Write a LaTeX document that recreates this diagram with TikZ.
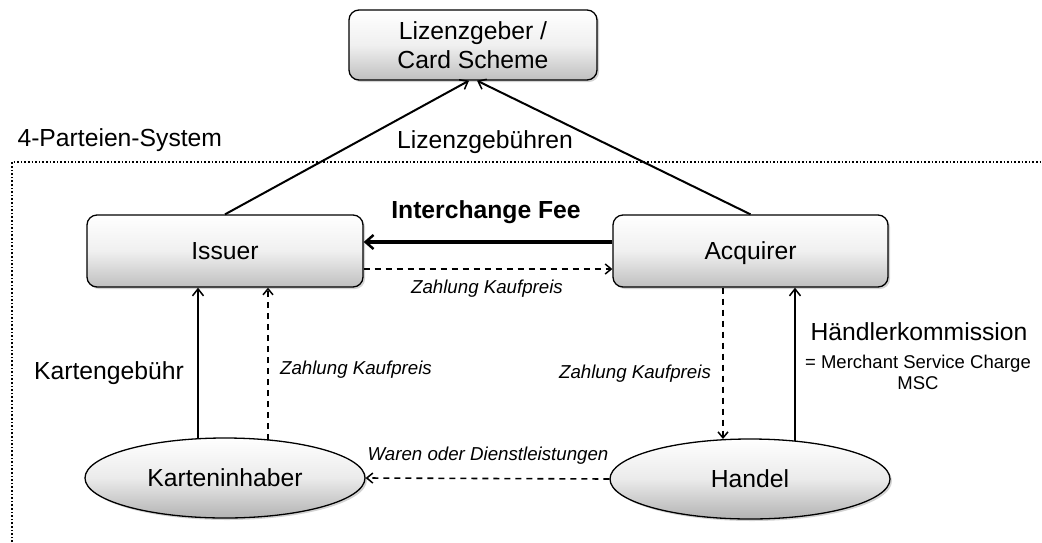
\documentclass[tikz,border=0pt]{standalone}
\usepackage{fontspec}
\setmainfont{Liberation Sans}
\usetikzlibrary{arrows.meta,shapes.geometric,shadows,calc}
\begin{document}
\begin{tikzpicture}[x=1pt,y=-1pt,
  big/.style={font=\fontsize{24.7}{29.5}\selectfont},
  small/.style={font=\fontsize{18.7}{22}\selectfont\itshape},
  boxnode/.style={draw=black, line width=1.3pt, rounded corners=10pt, top color=white, bottom color=black!25, middle color=black!6,
    drop shadow={shadow xshift=2pt, shadow yshift=-2pt, opacity=0.35}, big, inner sep=0pt, align=center},
  centred/.style={text height=17.7pt, text depth=0pt},
  ellnode/.style={ellipse, draw=black, line width=1.3pt, top color=white, bottom color=black!30, middle color=black!8,
    drop shadow={shadow xshift=2pt, shadow yshift=-2pt, opacity=0.35}, big, inner sep=0pt, minimum width=280pt, minimum height=80pt,
    centred},
  tip/.style={-{Straight Barb[length=7pt,width=11pt,line width=1.5pt]}},
  solidarrow/.style={tip, line width=2pt},
  dasharrow/.style={-{Straight Barb[length=6pt,width=10pt,line width=1.5pt]}, line width=1.6pt, dash pattern=on 6pt off 5pt},
  boldarrow/.style={-{Straight Barb[length=8pt,width=14pt,line width=2.5pt]}, line width=3.5pt},
  frame/.style={line width=1.6pt, dotted}
]
\useasboundingbox (0,0) rectangle (1042,542);

% frame
\coordinate (fbl) at (12,542);
\coordinate (ftl) at (12,162);
\coordinate (ftr) at (1042,162);
\draw[frame] (fbl) -- (ftl) -- (ftr);
\node[big, anchor=west] (sys) at (14,140) {4-Parteien-System};

% nodes
\node[boxnode, minimum width=248pt, minimum height=70pt] (liz) at (473,45) {Lizenzgeber /\\Card Scheme};
\node[boxnode, centred, minimum width=276pt, minimum height=72pt] (issuer) at (225,251) {Issuer};
\node[boxnode, centred, minimum width=275pt, minimum height=72pt] (acq) at (750.5,251) {Acquirer};
\node[ellnode] (karten) at (225,478) {Karteninhaber};
\node[ellnode] (handel) at (750,479) {Handel};

% license fees
\draw[solidarrow] (issuer.north) -- ([xshift=-4pt]liz.south);
\draw[solidarrow] (acq.north) -- ([xshift=4pt]liz.south);
\node[big] (lizlab) at (485,142) {Lizenzgebühren};

% interchange fee
\draw[boldarrow] ([yshift=9pt]acq.west) -- ([yshift=9pt]issuer.east);
\node[big, font=\fontsize{24.7}{29}\selectfont\bfseries] (iflab) at (486,212) {Interchange Fee};

% payment issuer -> acquirer
\draw[dasharrow] ([yshift=-18pt]issuer.east) -- ([yshift=-18pt]acq.west);
\node[small] (zk1) at (487,289) {Zahlung Kaufpreis};

% cardholder -> issuer
\coordinate (k1) at ($(karten.center)+(-27,-39)$);
\coordinate (k2) at ($(karten.center)+(43,-38)$);
\draw[solidarrow] (k1) -- (k1 |- issuer.south);
\draw[dasharrow] (k2) -- (k2 |- issuer.south);
\node[big] (kglab) at (109,373) {Kartengebühr};
\node[small] (zk2) at (356,370) {Zahlung Kaufpreis};

% acquirer <-> merchant
\coordinate (h1) at ($(handel.center)+(-27,-40)$);
\coordinate (h2) at ($(handel.center)+(45,-38)$);
\draw[dasharrow] (h1 |- acq.south) -- (h1);
\draw[solidarrow] (h2) -- (h2 |- acq.south);
\node[small] (zk3) at (635,374) {Zahlung Kaufpreis};
\node[big] (hk) at (919,332) {Händlerkommission};
\node[font=\fontsize{18.5}{21}\selectfont, align=center] (msc) at (918,372) {= Merchant Service Charge\\MSC};

% goods
\draw[dasharrow] (handel.west) -- (karten.east);
\node[small] (waren) at (488,456) {Waren oder Dienstleistungen};
\end{tikzpicture}
\end{document}
